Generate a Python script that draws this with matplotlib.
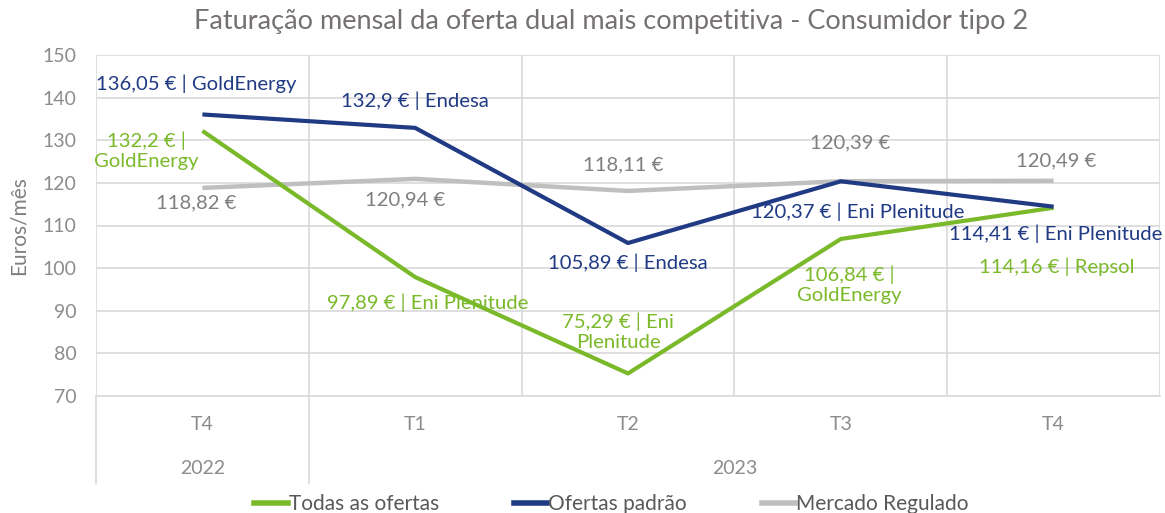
"""Faturação mensal da oferta dual mais competitiva - Consumidor tipo 2."""

import matplotlib.pyplot as plt
from matplotlib.lines import Line2D
from matplotlib.transforms import blended_transform_factory

plt.rcParams["font.family"] = ["Lato", "DejaVu Sans"]

quarters = ["T4", "T1", "T2", "T3", "T4"]
years = ["2022", "2023"]
year_span = [(0, 0), (1, 4)]

todas = [132.2, 97.89, 75.29, 106.84, 114.16]
padrao = [136.05, 132.9, 105.89, 120.37, 114.41]
regulado = [118.82, 120.94, 118.11, 120.39, 120.49]

todas_lbl = ["132,2 € |\nGoldEnergy", "97,89 € | Eni Plenitude", "75,29 € | Eni\nPlenitude",
             "106,84 € |\nGoldEnergy", "114,16 € | Repsol"]
padrao_lbl = ["136,05 € | GoldEnergy", "132,9 € | Endesa", "105,89 € | Endesa",
              "120,37 € | Eni Plenitude", "114,41 € | Eni Plenitude"]
regulado_lbl = ["118,82 €", "120,94 €", "118,11 €", "120,39 €", "120,49 €"]

GREEN = "#7ab929"
NAVY = "#203a84"
GREY = "#bfbfbf"
TXT = "#7f7f7f"
GRID = "#d9d9d9"

# label offsets in pixels (dx, dy up)
todas_off = [(-56, -20), (12, -26), (-10, 42), (9, -46), (3, -59)]
padrao_off = [(-6, 31), (0, 27), (0, -20), (17, -30), (2, -27)]
regulado_off = [(-6, -15), (-10, -21), (-5, 26), (9, 38), (3, 20)]

fig = plt.figure(figsize=(11.65, 5.13), dpi=100)
ax = fig.add_axes([96 / 1165, 1 - 396 / 513, 1064 / 1165, 341 / 513])

x = list(range(len(quarters)))
ax.plot(x, regulado, color=GREY, lw=3.2, solid_capstyle="butt", zorder=3)
ax.plot(x, todas, color=GREEN, lw=3.0, solid_capstyle="butt", zorder=4)
ax.plot(x, padrao, color=NAVY, lw=3.0, solid_capstyle="butt", zorder=5)

for vals, lbls, offs, col in ((todas, todas_lbl, todas_off, GREEN),
                              (padrao, padrao_lbl, padrao_off, NAVY),
                              (regulado, regulado_lbl, regulado_off, TXT)):
    for i, (v, t, (dx, dy)) in enumerate(zip(vals, lbls, offs)):
        ax.annotate(t, xy=(i, v), xytext=(dx, dy), textcoords="offset pixels",
                    ha="center", va="center", fontsize=14.6, color=col,
                    linespacing=1.2, zorder=6)

ax.set_xlim(-0.5, 4.5)
ax.set_ylim(70, 150)
ax.set_yticks(range(70, 151, 10))
ax.set_xticks([])
ax.set_xticks([i + 0.5 for i in range(-1, 5)], minor=True)
ax.grid(True, axis="y", color=GRID, lw=1.2)
ax.grid(True, axis="x", which="minor", color=GRID, lw=1.2)
ax.tick_params(axis="y", length=0, labelsize=14, labelcolor="#8c8c8c", pad=14)
ax.tick_params(axis="x", which="both", length=0)
for s in ("top", "right", "left"):
    ax.spines[s].set_visible(False)
ax.spines["bottom"].set_color(GRID)
ax.spines["bottom"].set_linewidth(1.2)
ax.set_ylabel("Euros/mês", fontsize=15, color=TXT, labelpad=10)

# two-level category axis
tr = blended_transform_factory(ax.transData, ax.transAxes)
for i, q in enumerate(quarters):
    ax.text(i, -29 / 341, q, transform=tr, ha="center", va="center",
            fontsize=14, color="#8c8c8c")
for yr, (a, b) in zip(years, year_span):
    ax.text((a + b) / 2, -72 / 341, yr, transform=tr, ha="center", va="center",
            fontsize=14, color="#8c8c8c")
for xb in (-0.5, 0.5):
    ax.add_line(Line2D([xb, xb], [0, -87 / 341], transform=tr, color=GRID,
                       lw=1.2, clip_on=False))

fig.suptitle("Faturação mensal da oferta dual mais competitiva - Consumidor tipo 2",
             x=0.525, y=1 - 22 / 513, va="center", fontsize=19.5, color="#767171")

handles = [Line2D([], [], color=GREEN, lw=4),
           Line2D([], [], color=NAVY, lw=4),
           Line2D([], [], color=GREY, lw=4)]
fig.legend(handles, ["Todas as ofertas", "Ofertas padrão", "Mercado Regulado"],
           loc="center", bbox_to_anchor=(0.525, 1 - 504 / 513), ncol=3, frameon=False,
           fontsize=15, labelcolor="#595959", handlelength=1.6, handletextpad=0.05,
           columnspacing=3.6)

fig.savefig("out.png", dpi=100)
